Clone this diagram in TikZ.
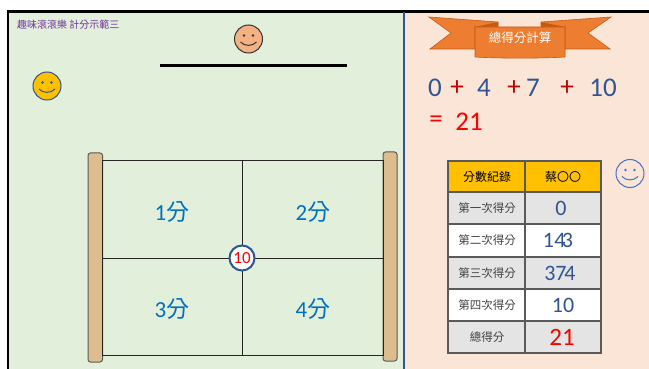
\documentclass[tikz,border=0pt]{standalone}
\usepackage{fontspec}
\setmainfont{Carlito}
\newfontfamily\cjk{Noto Sans CJK TC}
\definecolor{boardgreen}{HTML}{E2EFDA}
\definecolor{peach}{HTML}{FBE5D6}
\definecolor{navy}{HTML}{2F5597}
\definecolor{ribbon}{HTML}{ED7D31}
\definecolor{ribbondark}{HTML}{C55A11}
\definecolor{gold}{HTML}{FFC000}
\definecolor{cellgray}{HTML}{E4E4E4}
\definecolor{gridline}{HTML}{595959}
\definecolor{wood}{HTML}{DDBC8E}
\definecolor{scoreblue}{HTML}{0070C0}
\definecolor{titlepurple}{HTML}{7030A0}
\definecolor{plusred}{HTML}{C00000}
\definecolor{facepeach}{HTML}{F4B183}
\definecolor{faceblue}{HTML}{4472C4}
\definecolor{labelgray}{HTML}{404040}
% a smiley face: name, centre x, centre y, fill, stroke
\newcommand\smileyface[5]{%
  \node[circle,minimum size=28pt,inner sep=0pt,fill=#4,draw=#5,line width=1pt] (#1) at (#2,#3) {};
  \fill[#5] ($(#1)+(-4.5,-3.5)$) circle[radius=1.4pt];
  \fill[#5] ($(#1)+(4.5,-3.5)$) circle[radius=1.4pt];
  \draw[#5,line width=1pt] ($(#1)+(-8,3)$) .. controls ($(#1)+(-4,7.5)$) and ($(#1)+(4,7.5)$) .. ($(#1)+(8,3)$);
}
\usetikzlibrary{calc}
\begin{document}
\begin{tikzpicture}[x=1pt,y=-1pt,
  post/.style={rounded corners=2.5pt,fill=wood,draw=gridline,line width=1pt},
  gridln/.style={draw=black!85,line width=0.9pt},
  fieldlabel/.style={text=scoreblue,font=\fontsize{23}{23}\selectfont,inner sep=0pt},
  eqnum/.style={text=navy,font=\fontsize{27}{27}\selectfont,inner sep=0pt},
  eqplus/.style={text=plusred,font=\fontsize{27}{27}\selectfont,inner sep=0pt},
  tabletext/.style={text=labelgray,font=\cjk\fontsize{11.5}{11.5}\selectfont,inner sep=0pt},
  tablenum/.style={text=navy,font=\fontsize{22}{22}\selectfont,inner sep=0pt},
  tablerule/.style={draw=gridline,line width=1.3pt}]
\useasboundingbox (0,0) rectangle (649,369);
\fill[white] (0,0) rectangle (649,369);

% two panels
\fill[boardgreen] (9,12) rectangle (404,369);
\fill[peach] (404,12) rectangle (649,369);
\coordinate (topL) at (8,11.5);
\coordinate (topR) at (649,11.5);
\coordinate (botL) at (8,369);
\coordinate (divT) at (404,12);
\coordinate (divB) at (404,369);
\draw[black,line width=2.5pt] (botL) -- (topL) -- (topR);
\draw[navy,line width=1.3pt] (divT) -- (divB);

% left panel heading
\node[anchor=west,text=titlepurple,font=\cjk\fontsize{10}{10}\selectfont,inner sep=0pt] (title) at (17,25) {趣味滾滾樂 計分示範三};

% bar with a face above it
\coordinate (barL) at (160,65.5);
\coordinate (barR) at (347,65.5);
\draw[black,line width=3pt] (barL) -- (barR);
\smileyface{facetop}{248.5}{39}{facepeach}{black!80}
\smileyface{faceleft}{47}{86}{gold}{navy}

% the board: two wooden posts and a 2x2 field
\draw[post] (88,153) rectangle (102.5,362);
\draw[post] (383,152) rectangle (397,361);
\coordinate (gTL) at (102.5,160.5);
\coordinate (gBR) at (383,355.5);
\coordinate (gMT) at (242,160.5);
\coordinate (gMB) at (242,355.5);
\coordinate (gML) at (102.5,258);
\coordinate (gMR) at (383,258);
\draw[gridln] (gTL) rectangle (gBR);
\draw[gridln] (gMT) -- (gMB);
\draw[gridln] (gML) -- (gMR);
\node[fieldlabel] (f1) at (172,212) {1{\cjk 分}};
\node[fieldlabel] (f2) at (313,212) {2{\cjk 分}};
\node[fieldlabel] (f3) at (172,309) {3{\cjk 分}};
\node[fieldlabel] (f4) at (313,309) {4{\cjk 分}};
\node[circle,fill=white,draw=navy,line width=2pt,minimum size=25pt,inner sep=0pt,
      text=red,font=\fontsize{17}{17}\selectfont] (ball) at (242,258) {10};

% ribbon banner
\draw[ribbondark,fill=ribbon,line width=0.6pt] (429,17) -- (498,22) -- (498,27) -- (475,27) -- (475,49) -- (430,49) -- (451,33) -- cycle;
\draw[ribbondark,fill=ribbon,line width=0.6pt] (611,17) -- (541,22) -- (541,27) -- (565,27) -- (565,49) -- (610,49) -- (588,33) -- cycle;
\fill[ribbondark] (475,27) -- (498,22) -- (498,27) -- cycle;
\fill[ribbondark] (565,27) -- (541,22) -- (541,27) -- cycle;
\draw[ribbondark,fill=ribbon,line width=0.6pt] (475,27) -- (565,27) -- (565,57) .. controls (540,58.5) and (500,58.5) .. (475,57) -- cycle;
\node[text=white,font=\cjk\fontsize{12.5}{12.5}\selectfont,inner sep=0pt] (banner) at (520,38) {總得分計算};

% running sum
\node[eqnum] (e0) at (435,88) {0};
\node[eqplus] (p1) at (457,88) {+};
\node[eqnum] (e4) at (484,88) {4};
\node[eqplus] (p2) at (514,88) {+};
\node[eqnum] (e7) at (533,88) {7};
\node[eqplus] (p3) at (567,88) {+};
\node[eqnum] (e10) at (603,88) {10};
\node[text=red,font=\fontsize{27}{27}\selectfont,inner sep=0pt] (eq) at (436,122) {=};
\node[text=red,font=\fontsize{27}{27}\selectfont,inner sep=0pt] (e21) at (469,122) {21};

% score table
\fill[gold] (448,161) rectangle (601,192);
\fill[cellgray] (448,192) rectangle (601,224);
\fill[white] (448,224) rectangle (601,257);
\fill[cellgray] (448,257) rectangle (601,289);
\fill[white] (448,289) rectangle (601,321);
\fill[cellgray] (448,321) rectangle (601,353);
\draw[tablerule] (448,161) rectangle (601,353);
\draw[tablerule] (525,161) -- (525,353);
\foreach \yy in {192,224,257,289,321} \draw[tablerule] (448,\yy) -- (601,\yy);
\node[text=black,font=\cjk\fontsize{12}{12}\selectfont,inner sep=0pt] (hdA) at (487,177) {分數紀錄};
\node[text=black,font=\cjk\fontsize{12}{12}\selectfont,inner sep=0pt] (hdB) at (563,177) {蔡〇〇};
\node[tabletext] (r1) at (487,208) {第一次得分};
\node[tabletext] (r2) at (487,240.5) {第二次得分};
\node[tabletext] (r3) at (487,273) {第三次得分};
\node[tabletext] (r4) at (487,305) {第四次得分};
\node[tabletext] (r5) at (487,337) {總得分};
\node[tablenum] (v1) at (561,208) {0};
\node[tablenum] (v2a) at (548.5,240.5) {1};
\node[tablenum] (v2b) at (560,240.5) {4};
\node[tablenum] (v2c) at (567.5,240.5) {3};
\node[tablenum] (v3a) at (550,273) {3};
\node[tablenum] (v3b) at (561,273) {7};
\node[tablenum] (v3c) at (570,273) {4};
\node[tablenum] (v4) at (563,305) {10};
\node[text=red,font=\fontsize{25}{25}\selectfont,inner sep=0pt] (v5) at (562,337) {21};

\smileyface{faceright}{630}{173.5}{none}{faceblue}
\end{tikzpicture}
\end{document}
